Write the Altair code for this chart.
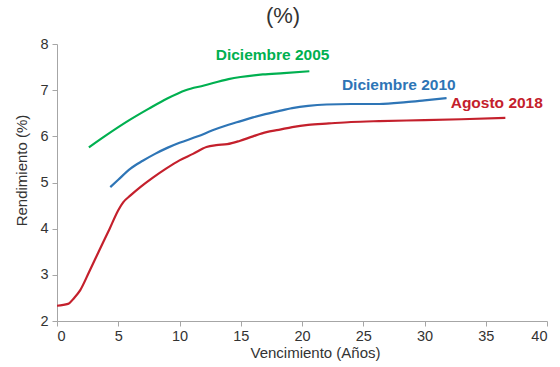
import altair as alt
import pandas as pd

# Curvas de rendimiento: vencimiento (años) vs rendimiento (%)
x_2018 = [0, 0.9, 1.4, 1.9, 2.6, 3.4, 4.3, 5.0, 5.4, 6.0, 6.8, 7.8, 8.9, 10.0, 11.1,
          12.2, 13.0, 13.9, 14.9, 16.0, 17.1, 18.1, 19.2, 20.5, 22.2, 24.0, 26.3, 30.0, 33.0, 36.6]
y_2018 = [2.33, 2.37, 2.50, 2.67, 3.05, 3.50, 4.00, 4.40, 4.57, 4.72, 4.90, 5.10, 5.30, 5.48, 5.62,
          5.77, 5.81, 5.83, 5.90, 6.00, 6.09, 6.14, 6.20, 6.25, 6.28, 6.31, 6.33, 6.35, 6.37, 6.40]

x_2010 = [4.35, 5.0, 6.0, 7.0, 8.0, 9.0, 10.0, 11.5, 12.7, 14.0, 15.0, 16.0, 17.0, 18.0,
          19.2, 20.5, 22.0, 24.0, 26.3, 28.5, 30.0, 31.8]
y_2010 = [4.90, 5.06, 5.30, 5.47, 5.62, 5.75, 5.86, 6.00, 6.13, 6.25, 6.33, 6.41, 6.48, 6.54,
          6.61, 6.66, 6.69, 6.70, 6.70, 6.74, 6.78, 6.83]

x_2005 = [2.6, 4.0, 5.9, 7.5, 9.0, 10.5, 12.0, 14.0, 16.8, 18.5, 20.6]
y_2005 = [5.76, 6.02, 6.35, 6.60, 6.82, 7.00, 7.10, 7.24, 7.34, 7.37, 7.41]

series = ["Diciembre 2005", "Diciembre 2010", "Agosto 2018"]
colors = ["#00B050", "#2E75B6", "#C4202C"]

# Etiquetas de cada curva (posición en unidades de datos)
label_x = [17.6, 27.9, 35.9]
label_y = [7.76, 7.11, 6.72]

rows = []
for name, xs, ys in zip(series, [x_2005, x_2010, x_2018], [y_2005, y_2010, y_2018]):
    for i, (a, b) in enumerate(zip(xs, ys)):
        rows.append({"serie": name, "venc": a, "rend": b, "orden": i})
df = pd.DataFrame(rows)
labels = pd.DataFrame({"serie": series, "venc": label_x, "rend": label_y})

color_scale = alt.Scale(domain=series, range=colors)
x_scale = alt.Scale(domain=[0, 40], nice=False)
y_scale = alt.Scale(domain=[2, 8], nice=False, zero=False)

font = "Liberation Sans"
axis_common = dict(
    domainColor="#A6A6A6", tickColor="#A6A6A6", grid=False,
    labelFont=font, labelFontSize=14.5, labelColor="#333333",
    titleFont=font, titleFontSize=15, titleColor="#333333", titleFontWeight="normal",
    tickSize=5,
)

lines = alt.Chart(df).mark_line(strokeWidth=2.2, interpolate="monotone").encode(
    x=alt.X("venc:Q", scale=x_scale,
            axis=alt.Axis(title="Vencimiento (Años)", values=list(range(0, 41, 5)),
                          labelPadding=3, titlePadding=3, titleX=258, **axis_common)),
    y=alt.Y("rend:Q", scale=y_scale,
            axis=alt.Axis(title="Rendimiento (%)", values=list(range(2, 9)),
                          labelPadding=4, titlePadding=10, titleY=126, **axis_common)),
    color=alt.Color("serie:N", scale=color_scale, legend=None),
    order="orden:Q",
    detail="serie:N",
)

text = alt.Chart(labels).mark_text(font=font, fontSize=15.5, fontWeight="bold",
                                   align="center", baseline="middle").encode(
    x=alt.X("venc:Q", scale=x_scale),
    y=alt.Y("rend:Q", scale=y_scale),
    text="serie:N",
    color=alt.Color("serie:N", scale=color_scale, legend=None),
)

chart = (lines + text).properties(
    width=490, height=277,
    autosize=alt.AutoSizeParams(type="none"),
    padding={"left": 57, "top": 44, "right": 12, "bottom": 46},
    title=alt.TitleParams("(%)", font=font, fontSize=22, fontWeight="normal",
                          color="#333333", anchor="middle", offset=8, dx=-19),
).configure_view(stroke=None)

chart.save("out.html", embed_options={"renderer": "svg", "actions": False})
